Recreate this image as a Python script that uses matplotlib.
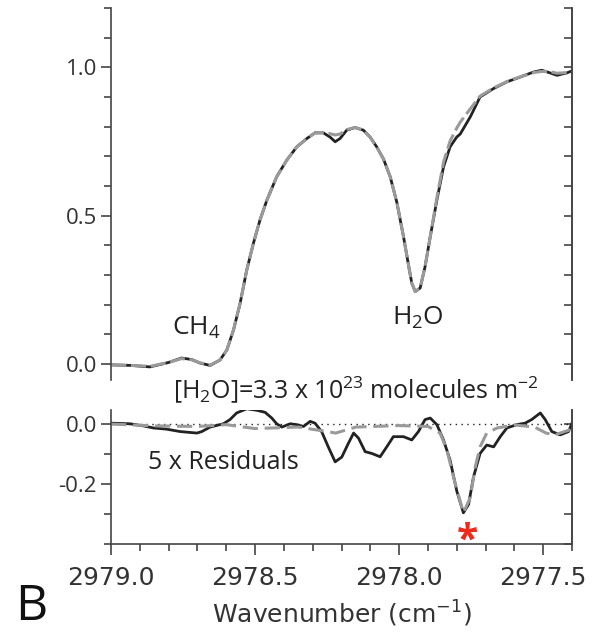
import matplotlib
matplotlib.use("Agg")
import matplotlib.pyplot as plt
from matplotlib.ticker import MultipleLocator, FixedLocator, FormatStrFormatter

plt.rcParams['axes.unicode_minus'] = False
plt.rcParams['font.family'] = ['Open Sans', 'DejaVu Sans']
plt.rcParams['mathtext.fontset'] = 'custom'
plt.rcParams['mathtext.rm'] = 'Open Sans'
plt.rcParams['mathtext.it'] = 'Open Sans:italic'
plt.rcParams['mathtext.default'] = 'regular'

# spectrum: measured transmission and fitted model
wn = [2979.000, 2978.930, 2978.865, 2978.800, 2978.755, 2978.720, 2978.691, 2978.656,
      2978.622, 2978.598, 2978.575, 2978.552, 2978.529, 2978.506, 2978.483, 2978.459,
      2978.425, 2978.390, 2978.355, 2978.320, 2978.292, 2978.263, 2978.240, 2978.222,
      2978.205, 2978.182, 2978.153, 2978.124, 2978.101, 2978.078, 2978.054, 2978.031,
      2978.008, 2977.985, 2977.965, 2977.956, 2977.944, 2977.927, 2977.910, 2977.892,
      2977.869, 2977.846, 2977.823, 2977.800, 2977.788, 2977.753, 2977.719, 2977.673,
      2977.626, 2977.580, 2977.534, 2977.505, 2977.476, 2977.452, 2977.418, 2977.400]
measured = [-0.003, -0.005, -0.010, 0.005, 0.020, 0.015, 0.003, -0.005,
            0.013, 0.047, 0.114, 0.204, 0.316, 0.406, 0.485, 0.552,
            0.631, 0.687, 0.732, 0.760, 0.779, 0.779, 0.765, 0.749,
            0.760, 0.788, 0.797, 0.788, 0.765, 0.732, 0.690, 0.631,
            0.545, 0.430, 0.320, 0.272, 0.244, 0.256, 0.328, 0.429,
            0.552, 0.664, 0.732, 0.765, 0.775, 0.833, 0.900, 0.928,
            0.951, 0.967, 0.984, 0.990, 0.981, 0.973, 0.981, 0.988]
fitted = [-0.003, -0.005, -0.008, 0.005, 0.018, 0.014, 0.004, -0.004,
          0.013, 0.047, 0.114, 0.204, 0.316, 0.406, 0.485, 0.552,
          0.631, 0.687, 0.732, 0.760, 0.779, 0.780, 0.776, 0.772,
          0.775, 0.790, 0.797, 0.788, 0.765, 0.732, 0.690, 0.631,
          0.545, 0.430, 0.320, 0.272, 0.244, 0.256, 0.328, 0.429,
          0.560, 0.680, 0.752, 0.795, 0.815, 0.860, 0.903, 0.930,
          0.952, 0.968, 0.982, 0.986, 0.985, 0.980, 0.982, 0.988]

# 5 x residuals of the fit
res_wn = [2979.000, 2978.934, 2978.888, 2978.853, 2978.807, 2978.760, 2978.702, 2978.685,
          2978.656, 2978.610, 2978.587, 2978.564, 2978.529, 2978.494, 2978.465, 2978.442,
          2978.425, 2978.407, 2978.378, 2978.355, 2978.332, 2978.309, 2978.292, 2978.269,
          2978.246, 2978.222, 2978.199, 2978.176, 2978.158, 2978.141, 2978.118, 2978.095,
          2978.066, 2978.043, 2978.020, 2977.985, 2977.956, 2977.933, 2977.910, 2977.892,
          2977.869, 2977.846, 2977.823, 2977.800, 2977.777, 2977.759, 2977.742, 2977.719,
          2977.696, 2977.672, 2977.649, 2977.626, 2977.592, 2977.563, 2977.540, 2977.510,
          2977.493, 2977.470, 2977.441, 2977.412, 2977.400]
residual = [0.003, 0.001, -0.006, -0.013, -0.017, -0.025, -0.030, -0.025,
            -0.010, 0.001, 0.015, 0.037, 0.051, 0.046, 0.039, 0.020,
            0.001, -0.010, 0.001, -0.002, -0.008, 0.009, 0.003, -0.025,
            -0.076, -0.126, -0.110, -0.064, -0.030, -0.047, -0.092, -0.098,
            -0.109, -0.076, -0.042, -0.042, -0.053, -0.025, 0.015, 0.020,
            -0.002, -0.053, -0.121, -0.223, -0.296, -0.268, -0.177, -0.098,
            -0.070, -0.076, -0.042, -0.013, -0.002, 0.003, 0.015, 0.037,
            0.015, -0.025, -0.036, -0.025, 0.003]

# residual attributed to the water line
h2o_wn = [2979.000, 2978.850, 2978.700, 2978.600, 2978.500, 2978.350, 2978.250, 2978.220,
          2978.150, 2978.000, 2977.900, 2977.858, 2977.834, 2977.811, 2977.777, 2977.753,
          2977.736, 2977.719, 2977.696, 2977.660, 2977.600, 2977.530, 2977.490, 2977.460,
          2977.410, 2977.400]
h2o_res = [0.000, -0.006, -0.008, -0.002, -0.015, -0.010, -0.025, -0.030,
           -0.010, -0.005, -0.008, -0.030, -0.087, -0.178, -0.296, -0.245,
           -0.144, -0.076, -0.030, -0.013, -0.003, -0.010, -0.030, -0.036,
           -0.020, -0.010]

black = '#222222'
grey = '#9a9a9a'
axcol = '#444444'
txt = '#222222'

fig = plt.figure(figsize=(5.93, 6.37), dpi=100)
ax1 = fig.add_axes([0.1872, 0.4035, 0.7774, 0.584])
ax2 = fig.add_axes([0.1872, 0.146, 0.7774, 0.2104], sharex=ax1)

ax1.plot(wn, measured, color=black, lw=2.0)
ax1.plot(wn, fitted, color=grey, lw=2.2, dashes=(5, 1.5))

ax2.axhline(0, color=black, lw=1.0, ls=(0, (1, 3.2)))
ax2.plot(res_wn, residual, color=black, lw=2.0)
ax2.plot(h2o_wn, h2o_res, color=grey, lw=2.2, dashes=(5, 2.2))

ax1.set_xlim(2979.0, 2977.4)
ax1.set_ylim(-0.054, 1.2)
ax2.set_ylim(-0.4, 0.047)

ax1.yaxis.set_major_locator(MultipleLocator(0.5))
ax2.yaxis.set_major_locator(FixedLocator([-0.2, 0.0]))

for ax in (ax1, ax2):
    ax.spines['top'].set_visible(False)
    for s in ('left', 'right', 'bottom'):
        ax.spines[s].set_color(axcol)
        ax.spines[s].set_linewidth(1.2)
    ax.yaxis.set_minor_locator(MultipleLocator(0.1))
    ax.yaxis.set_major_formatter(FormatStrFormatter('%.1f'))
    ax.tick_params(axis='y', which='both', direction='out', left=True, right=False,
                   color=axcol, width=1.2, labelsize=16, labelcolor='#333333', pad=3)
    ax.tick_params(axis='y', which='major', length=7)
    ax.tick_params(axis='y', which='minor', length=5)
    # inward ticks on the right side
    sec = ax.secondary_yaxis('right')
    sec.yaxis.set_major_locator(MultipleLocator(0.1))
    sec.tick_params(which='both', direction='in', labelright=False, color=axcol,
                    width=1.2, length=6)
    sec.spines['right'].set_color(axcol)
    sec.spines['right'].set_linewidth(1.2)

ax1.spines['bottom'].set_visible(False)
ax1.tick_params(axis='x', which='both', bottom=False, labelbottom=False)

ax2.xaxis.set_major_locator(MultipleLocator(0.5))
ax2.xaxis.set_minor_locator(MultipleLocator(0.1))
ax2.xaxis.set_major_formatter(FormatStrFormatter('%.1f'))
ax2.tick_params(axis='x', which='both', direction='out', color=axcol, width=1.2,
                labelsize=18, labelcolor='#333333', pad=8)
ax2.tick_params(axis='x', which='major', length=8)
ax2.tick_params(axis='x', which='minor', length=5)
for lab in ax2.get_xticklabels():
    lab.set_family('DejaVu Sans')
ax2.set_xlabel('Wavenumber (cm$^{-1}$)', fontsize=18, color='#333333', labelpad=6,
               family='DejaVu Sans')

ax1.text(2978.705, 0.12, 'CH$_4$', fontsize=19, ha='center', va='center', color=txt)
ax1.text(2977.934, 0.155, 'H$_2$O', fontsize=19, ha='center', va='center', color=txt)
fig.text(0.600, 0.388, '[H$_2$O]=3.3 x 10$^{23}$ molecules m$^{-2}$', fontsize=18,
         ha='center', va='center', color=txt)
ax2.text(2978.870, -0.129, '5 x Residuals', fontsize=18, ha='left', va='center',
         color=txt)
ax2.text(2977.764, -0.39, '*', fontsize=28, fontweight='bold', color='#ee2a1b',
         ha='center', va='center')
fig.text(0.053, 0.047, 'B', fontsize=36, ha='center', va='center', color='#111111')

fig.savefig('out.png', dpi=100)
